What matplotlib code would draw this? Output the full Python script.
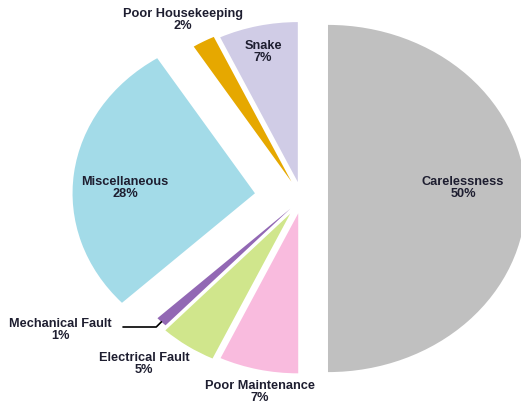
import math
import matplotlib
matplotlib.use("Agg")
import matplotlib.pyplot as plt

causes = ["Carelessness", "Poor Maintenance", "Electrical Fault", "Mechanical Fault",
          "Miscellaneous", "Poor Housekeeping", "Snake"]
shares = [50, 7, 5, 1, 28, 2, 7]
colors = ["#C0C0C0", "#F9BBDE", "#D0E68C", "#9268B4", "#A3DBE8", "#E6A800", "#D0CCE6"]
explode = [0.1425, 0.095, 0.115, 0.09, 0.26, 0.12, 0.105]

# label centres in pixels (x, y from top)
label_pos = [(463, 188), (260, 392), (144, 364), (60, 330),
             (125, 188), (183, 20), (263, 52)]

W, H = 521, 407
cx_px, cy_px, r_px, sx = 302, 198.5, 160, 1.14

plt.rcParams['font.family'] = ['Liberation Sans', 'DejaVu Sans']

fig = plt.figure(figsize=(W / 100, H / 100), dpi=100)
ax = fig.add_axes([0, 0, 1, 1])

wedges, _ = ax.pie(shares, colors=colors, explode=explode, startangle=90,
                   counterclock=False, radius=1,
                   wedgeprops=dict(linewidth=0, edgecolor="none"))
wedges[0].set_radius(1.085)

ax.set_aspect("auto")
ax.set_xlim(-cx_px / (sx * r_px), (W - cx_px) / (sx * r_px))
ax.set_ylim((cy_px - H) / r_px, cy_px / r_px)
ax.axis("off")

for i, (name, val) in enumerate(zip(causes, shares)):
    x, y = label_pos[i]
    fig.text(x / W, 1 - y / H, f"{name}\n{val}%", ha="center", va="center",
             fontsize=9.2, fontweight="bold", color="#1E1E30", linespacing=1.0)

# leader line for the thin slice
w = wedges[3]
mid = math.radians((w.theta1 + w.theta2) / 2)
px = w.center[0] + w.r * math.cos(mid)
py = w.center[1] + w.r * math.sin(mid)
ax.annotate("", xy=(px, py), xytext=(123 / W, 1 - 327 / H), textcoords="figure fraction",
            arrowprops=dict(arrowstyle="-", color="black", lw=1.2,
                            connectionstyle="angle,angleA=0,angleB=45,rad=0",
                            shrinkA=0, shrinkB=0))

fig.savefig("out.png", dpi=100, facecolor="white")
